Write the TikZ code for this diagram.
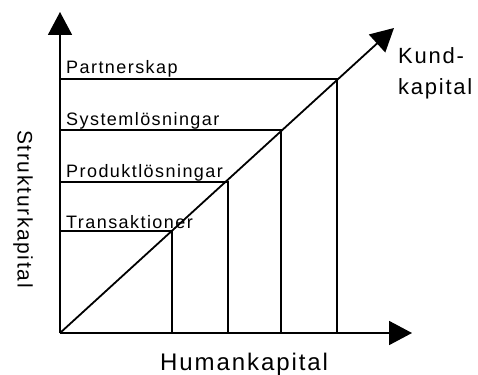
\documentclass[tikz,border=0pt]{standalone}
\usepackage{fontspec}
\setmainfont[LetterSpace=8]{Liberation Sans}
\usetikzlibrary{arrows.meta}

\begin{document}
\begin{tikzpicture}[x=1pt, y=-1pt,
    ax/.style={line width=1.8pt, -{Triangle[length=23pt, width=24pt]}},
    ln/.style={line width=1.8pt},
    lvl/.style={anchor=base west, inner sep=0pt, font=\fontsize{18}{20}\selectfont},
    axlbl/.style={inner sep=0pt, font=\fontsize{24}{30}\selectfont}
  ]
  \useasboundingbox (0,0) rectangle (478,374);
  % ---------------- axes ----------------
  \coordinate (o)    at (60,333);
  \coordinate (ytip) at (60,12);
  \coordinate (xtip) at (412,333);
  \coordinate (dtip) at (394,28);
  \draw[ax] (o) -- (ytip);
  \draw[ax] (o) -- (xtip);
  \draw[ax] (o) -- (dtip);

  % ---------------- levels on the diagonal ----------------
  \coordinate (t) at (172,231);
  \coordinate (p) at (228,182);
  \coordinate (s) at (281,130);
  \coordinate (k) at (337,79);
  \draw[ln] (t -| o) -- (t) -- (t |- o);
  \draw[ln] (p -| o) -- (p) -- (p |- o);
  \draw[ln] (s -| o) -- (s) -- (s |- o);
  \draw[ln] (k -| o) -- (k) -- (k |- o);

  \node[lvl] (lt) at (66,228) {Transaktioner};
  \node[lvl] (lp) at (66,177) {Produktlösningar};
  \node[lvl] (ls) at (66,125) {Systemlösningar};
  \node[lvl] (lk) at (66,74)  {Partnerskap};

  % ---------------- axis labels ----------------
  \node[axlbl, anchor=base west] (hum) at (160,370) {Humankapital};
  \node[axlbl, rotate=-90, font=\fontsize{21}{30}\selectfont] (str) at (23,209) {Strukturkapital};
  \node[axlbl, anchor=north west, align=left, font=\fontsize{22}{31}\selectfont] (kund) at (398,47) {Kund-\\kapital};
\end{tikzpicture}
\end{document}
